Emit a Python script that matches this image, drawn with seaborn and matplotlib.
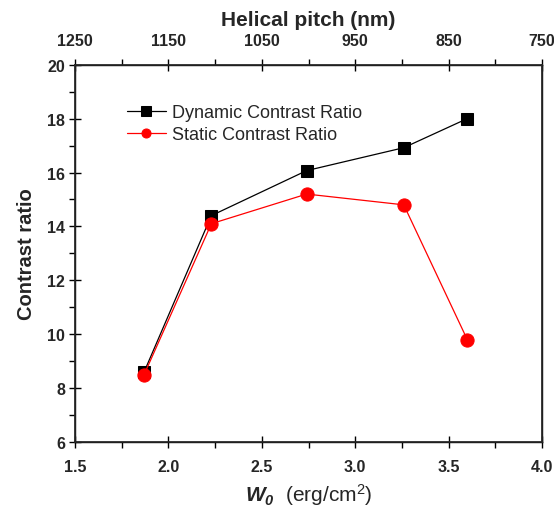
import matplotlib
matplotlib.use("Agg")
import matplotlib.pyplot as plt
import seaborn as sns
import pandas as pd
from matplotlib.ticker import MultipleLocator

w0 = [1.87, 2.23, 2.74, 3.26, 3.60]
dynamic = [8.6, 14.4, 16.07, 16.92, 18.0]
static = [8.5, 14.1, 15.2, 14.8, 9.8]
pitch_ticks = [1250, 1150, 1050, 950, 850, 750]

sns.set_theme(style="ticks")
plt.rcParams['font.family'] = ['Liberation Sans', 'DejaVu Sans']
plt.rcParams['mathtext.fontset'] = 'custom'
plt.rcParams['mathtext.rm'] = 'Liberation Sans'
plt.rcParams['mathtext.it'] = 'Liberation Sans:italic'
plt.rcParams['mathtext.bf'] = 'Liberation Sans:bold'
plt.rcParams['mathtext.bfit'] = 'Liberation Sans:bold:italic'

df = pd.DataFrame({"w0": w0, "dyn": dynamic, "sta": static})

fig = plt.figure(figsize=(5.54, 5.10), dpi=100)
ax = fig.add_axes([75/554, 1-443/510, (542-75)/554, (443-65.7)/510])

sns.lineplot(data=df, x="w0", y="dyn", ax=ax, color="black", lw=0.9,
             marker="s", markersize=8, markeredgecolor="black",
             label="Dynamic Contrast Ratio")
sns.lineplot(data=df, x="w0", y="sta", ax=ax, color="red", lw=0.9,
             marker="o", markersize=9.5, markeredgecolor="red",
             label="Static Contrast Ratio")

ax.set_xlim(1.5, 4.0)
ax.set_ylim(6, 20)
ax.xaxis.set_major_locator(MultipleLocator(0.5))
ax.xaxis.set_minor_locator(MultipleLocator(0.25))
ax.yaxis.set_major_locator(MultipleLocator(2))
ax.yaxis.set_minor_locator(MultipleLocator(1))
for s in ax.spines.values():
    s.set_linewidth(1.0)
    s.set_color("black")
ax.tick_params(which="major", direction="inout", length=8, width=1, pad=3, color="black")
ax.tick_params(axis="x", which="major", pad=8)
ax.tick_params(which="minor", direction="out", length=4, width=1, color="black")
ax.tick_params(axis="x", which="both", top=False)
ax.set_xticks(ax.get_xticks())
ax.set_xticklabels([f"{v:.1f}" for v in ax.get_xticks()], fontweight="bold", fontsize=11.5)
ax.set_yticks(ax.get_yticks())
ax.set_yticklabels([f"{int(v)}" for v in ax.get_yticks()], fontweight="bold", fontsize=11.5)
ax.set_xlim(1.5, 4.0)
ax.set_ylim(6, 20)

ax.set_ylabel("Contrast ratio", fontsize=14.5, fontweight="bold", labelpad=8)
ax.set_xlabel(r"$\mathbfit{W}_{\mathbfit{0}}$  (erg/cm$^{2}$)", fontsize=15, labelpad=5)

top = ax.twiny()
top.set_xlim(1250, 750)
top.set_xticks(pitch_ticks)
top.xaxis.set_minor_locator(MultipleLocator(50))
top.set_xticklabels([str(v) for v in pitch_ticks], fontweight="bold", fontsize=11.5)
top.tick_params(which="major", direction="inout", length=8, width=1, pad=8, color="black")
top.tick_params(which="minor", direction="out", length=4, width=1, color="black")
top.set_xlabel("Helical pitch (nm)", fontsize=15, fontweight="bold", labelpad=6)

leg = ax.legend(loc="upper left", bbox_to_anchor=(0.095, 0.915), frameon=False,
                fontsize=13, handlelength=2.2, handletextpad=0.3, labelspacing=0.3,
                borderaxespad=0)
for h in leg.legend_handles:
    h.set_markersize(6.5)

fig.savefig("out.png", dpi=100)
